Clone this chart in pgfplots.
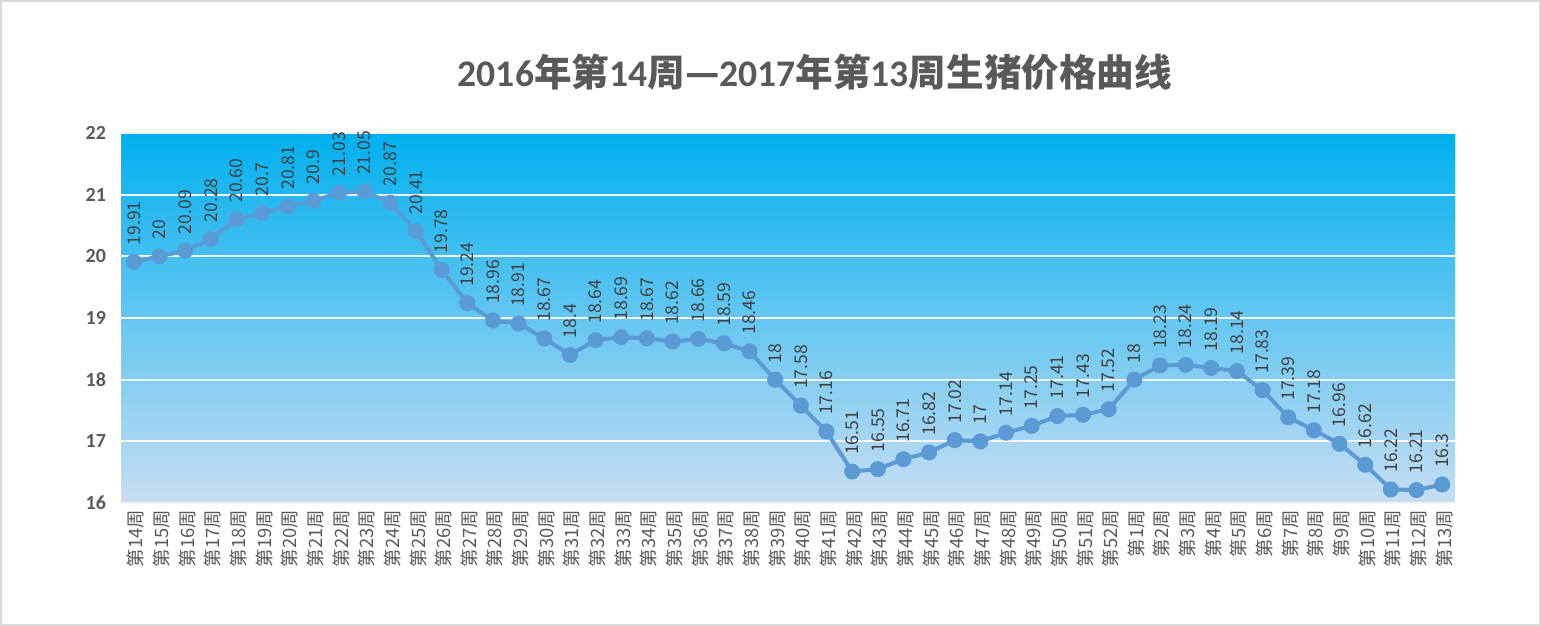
\documentclass[border=0pt]{standalone}
\usepackage{pgfplots}
\pgfplotsset{compat=1.18}
\usepackage{fontspec}
\setmainfont{Carlito}
\newfontfamily\cjk{Noto Sans CJK SC}
\definecolor{txt}{RGB}{89,89,89}
\definecolor{lbl}{RGB}{64,64,64}
\definecolor{linec}{RGB}{91,155,213}
\definecolor{topc}{RGB}{0,176,240}
\definecolor{botc}{RGB}{200,222,242}
\begin{document}
\begin{tikzpicture}
\path[use as bounding box] (0,0) rectangle (770.5pt,313pt);
\draw[gray!30, line width=0.8pt] (0.6pt,0.6pt) rectangle (769.9pt,312.4pt);
\node[text=txt, font=\fontsize{18.8}{21}\selectfont\bfseries] at (407.5pt,277pt)
 {2016{\cjk\bfseries 年第}14{\cjk\bfseries 周—}2017{\cjk\bfseries 年第}13{\cjk\bfseries 周生猪价格曲线}};
\begin{axis}[at={(60.5pt,61.5pt)}, anchor=south west, scale only axis,
 width=667pt, height=185pt,
 xmin=-0.5, xmax=51.5, ymin=16, ymax=22, ytick={16,17,...,22},
 xtick=data,
 xticklabels={第14周,第15周,第16周,第17周,第18周,第19周,第20周,第21周,第22周,第23周,第24周,第25周,第26周,第27周,第28周,第29周,第30周,第31周,第32周,第33周,第34周,第35周,第36周,第37周,第38周,第39周,第40周,第41周,第42周,第43周,第44周,第45周,第46周,第47周,第48周,第49周,第50周,第51周,第52周,第1周,第2周,第3周,第4周,第5周,第6周,第7周,第8周,第9周,第10周,第11周,第12周,第13周},
 axis background/.style={top color=topc, bottom color=botc},
 axis line style={draw=none},
 tick style={draw=none},
 ymajorgrids, major grid style={white!92!gray, line width=1pt},
 clip=false,
 /pgf/number format/assume math mode=true,
 yticklabel style={font=\fontsize{10}{11}\selectfont\bfseries, text=txt, xshift=-4pt},
 xticklabel style={rotate=90, anchor=east, font=\cjk\fontsize{9.2}{10}\selectfont, text=txt, yshift=-1pt},
 point meta=explicit symbolic,
 nodes near coords,
 every node near coord/.append style={yshift=4pt, rotate=90, anchor=west, font=\cjk\fontsize{8.8}{9}\selectfont, text=lbl},
]
\addplot[color=linec, line width=2pt, mark=*, mark size=3pt, mark options={fill=linec, draw=linec}]
 table[x=x, y=y, meta=l] {
x y l
0 19.91 19.91
1 20 20
2 20.09 20.09
3 20.28 20.28
4 20.60 20.60
5 20.7 20.7
6 20.81 20.81
7 20.9 20.9
8 21.03 21.03
9 21.05 21.05
10 20.87 20.87
11 20.41 20.41
12 19.78 19.78
13 19.24 19.24
14 18.96 18.96
15 18.91 18.91
16 18.67 18.67
17 18.4 18.4
18 18.64 18.64
19 18.69 18.69
20 18.67 18.67
21 18.62 18.62
22 18.66 18.66
23 18.59 18.59
24 18.46 18.46
25 18 18
26 17.58 17.58
27 17.16 17.16
28 16.51 16.51
29 16.55 16.55
30 16.71 16.71
31 16.82 16.82
32 17.02 17.02
33 17 17
34 17.14 17.14
35 17.25 17.25
36 17.41 17.41
37 17.43 17.43
38 17.52 17.52
39 18 18
40 18.23 18.23
41 18.24 18.24
42 18.19 18.19
43 18.14 18.14
44 17.83 17.83
45 17.39 17.39
46 17.18 17.18
47 16.96 16.96
48 16.62 16.62
49 16.22 16.22
50 16.21 16.21
51 16.3 16.3
};
\end{axis}
\end{tikzpicture}
\end{document}
